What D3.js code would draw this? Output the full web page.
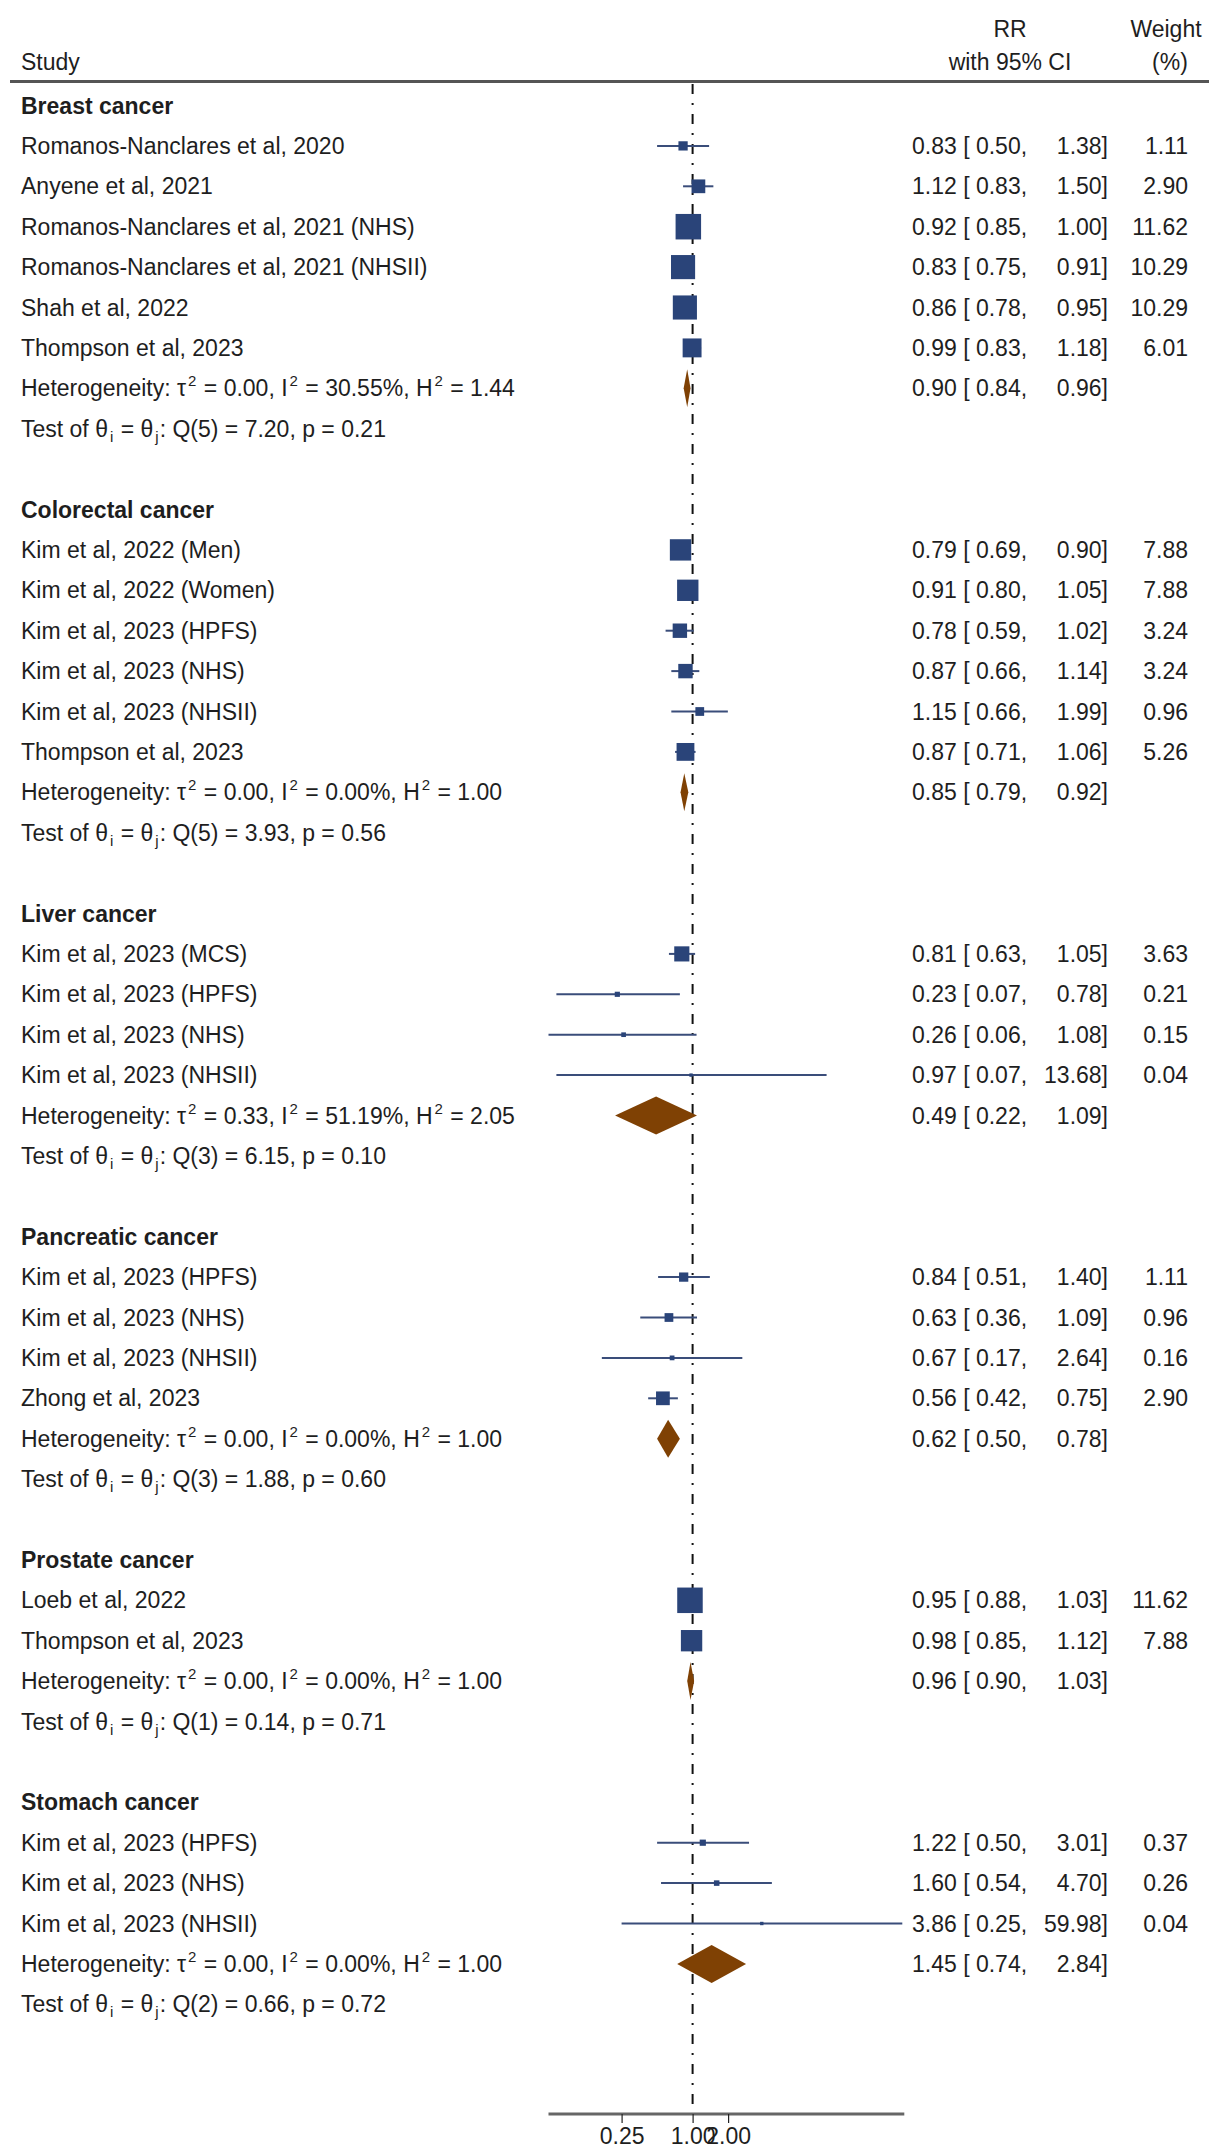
<!DOCTYPE html>
<html>
<head>
<meta charset="utf-8">
<script src="https://cdn.jsdelivr.net/npm/d3@7"></script>
<style>
  html, body { margin: 0; padding: 0; background: #ffffff; }
  svg { display: block; }
  text { font-family: "Liberation Sans", Arial, Helvetica, sans-serif; fill: #1e1e1e; white-space: pre; }
</style>
</head>
<body>
<div id="chart"></div>
<script>
// ---- Data -------------------------------------------------------------
const groupNames = ["Breast cancer", "Colorectal cancer", "Liver cancer",
                    "Pancreatic cancer", "Prostate cancer", "Stomach cancer"];

const studyLabels = [
  "Romanos-Nanclares et al, 2020", "Anyene et al, 2021",
  "Romanos-Nanclares et al, 2021 (NHS)", "Romanos-Nanclares et al, 2021 (NHSII)",
  "Shah et al, 2022", "Thompson et al, 2023",
  "Kim et al, 2022 (Men)", "Kim et al, 2022 (Women)", "Kim et al, 2023 (HPFS)",
  "Kim et al, 2023 (NHS)", "Kim et al, 2023 (NHSII)", "Thompson et al, 2023",
  "Kim et al, 2023 (MCS)", "Kim et al, 2023 (HPFS)", "Kim et al, 2023 (NHS)",
  "Kim et al, 2023 (NHSII)",
  "Kim et al, 2023 (HPFS)", "Kim et al, 2023 (NHS)", "Kim et al, 2023 (NHSII)",
  "Zhong et al, 2023",
  "Loeb et al, 2022", "Thompson et al, 2023",
  "Kim et al, 2023 (HPFS)", "Kim et al, 2023 (NHS)", "Kim et al, 2023 (NHSII)"
];
const studyGroup  = [0,0,0,0,0,0, 1,1,1,1,1,1, 2,2,2,2, 3,3,3,3, 4,4, 5,5,5];
const studyRR     = [0.83,1.12,0.92,0.83,0.86,0.99, 0.79,0.91,0.78,0.87,1.15,0.87,
                     0.81,0.23,0.26,0.97, 0.84,0.63,0.67,0.56, 0.95,0.98, 1.22,1.60,3.86];
const studyLo     = [0.50,0.83,0.85,0.75,0.78,0.83, 0.69,0.80,0.59,0.66,0.66,0.71,
                     0.63,0.07,0.06,0.07, 0.51,0.36,0.17,0.42, 0.88,0.85, 0.50,0.54,0.25];
const studyHi     = [1.38,1.50,1.00,0.91,0.95,1.18, 0.90,1.05,1.02,1.14,1.99,1.06,
                     1.05,0.78,1.08,13.68, 1.40,1.09,2.64,0.75, 1.03,1.12, 3.01,4.70,59.98];
const studyWeight = [1.11,2.90,11.62,10.29,10.29,6.01, 7.88,7.88,3.24,3.24,0.96,5.26,
                     3.63,0.21,0.15,0.04, 1.11,0.96,0.16,2.90, 11.62,7.88, 0.37,0.26,0.04];

const pooledRR = [0.90, 0.85, 0.49, 0.62, 0.96, 1.45];
const pooledLo = [0.84, 0.79, 0.22, 0.50, 0.90, 0.74];
const pooledHi = [0.96, 0.92, 1.09, 0.78, 1.03, 2.84];
const tau2     = ["0.00", "0.00", "0.33", "0.00", "0.00", "0.00"];
const i2       = ["30.55", "0.00", "51.19", "0.00", "0.00", "0.00"];
const h2       = ["1.44", "1.00", "2.05", "1.00", "1.00", "1.00"];
const qDf      = [5, 5, 3, 3, 1, 2];
const qStat    = ["7.20", "3.93", "6.15", "1.88", "0.14", "0.66"];
const qP       = ["0.21", "0.56", "0.10", "0.60", "0.71", "0.72"];

const tickValues = [0.25, 1, 2];
const tickLabels = ["0.25", "1.00", "2.00"];

// ---- Layout -----------------------------------------------------------
const W = 1209, H = 2148;
const fontSize = 23;
const rowTop = 105.5, rowStep = 40.4;
const xLabel = 21, xEst = 912, xHi = 1108, xWeight = 1188;
const axisY = 2114;

const boxColor = "#2a4479";
const ciColor = "#3a4d7a";
const diamondColor = "#7f4104";

const fmt = d3.format(".2f");

// Build the row list: header, studies, heterogeneity, test, blank per group
const rows = [];
groupNames.forEach((g, gi) => {
  rows.push({ type: "group", g: gi });
  studyLabels.forEach((s, si) => { if (studyGroup[si] === gi) rows.push({ type: "study", s: si }); });
  rows.push({ type: "pooled", g: gi });
  rows.push({ type: "test", g: gi });
  if (gi < groupNames.length - 1) rows.push({ type: "blank" });
});
rows.forEach((r, i) => r.y = rowTop + i * rowStep);

const x = d3.scaleLog().domain([0.06, 59.98]).range([548.5, 902.3]);
const boxSide = d3.scaleSqrt().domain([0, 11.62]).range([2, 25.5]);

const svg = d3.select("#chart").append("svg")
  .attr("width", W).attr("height", H)
  .attr("viewBox", `0 0 ${W} ${H}`);
svg.append("rect").attr("width", W).attr("height", H).attr("fill", "#fff");

// ---- Column headers ---------------------------------------------------
const hdr = svg.append("g").attr("font-size", fontSize);
hdr.append("text").attr("x", xLabel).attr("y", 70).text("Study");
hdr.append("text").attr("x", 1010).attr("y", 37).attr("text-anchor", "middle").text("RR");
hdr.append("text").attr("x", 1010).attr("y", 70).attr("text-anchor", "middle").text("with 95% CI");
hdr.append("text").attr("x", 1166).attr("y", 37).attr("text-anchor", "middle").text("Weight");
hdr.append("text").attr("x", 1170).attr("y", 70).attr("text-anchor", "middle").text("(%)");
svg.append("line").attr("x1", 10).attr("x2", W).attr("y1", 81.5).attr("y2", 81.5)
  .attr("stroke", "#555").attr("stroke-width", 3);

// ---- No-effect reference line ----------------------------------------
svg.append("line")
  .attr("x1", x(1)).attr("x2", x(1)).attr("y1", 84).attr("y2", axisY)
  .attr("stroke", "#111").attr("stroke-width", 2)
  .attr("stroke-dasharray", "10,9,2,9");

// ---- Rows -------------------------------------------------------------
const body = svg.append("g").attr("font-size", fontSize);

// small raised / lowered script inside a text line
function sup(t, s) {
  t.append("tspan").attr("font-size", 15).attr("dx", 2).attr("dy", -10).text(s);
  return t.append("tspan").attr("dx", 1).attr("dy", 10);
}
function sub(t, s) {
  t.append("tspan").attr("font-size", 15).attr("dx", 2).attr("dy", 5).text(s);
  return t.append("tspan").attr("dx", 1).attr("dy", -5);
}

rows.forEach(r => {
  const yb = r.y + 8;
  if (r.type === "group") {
    body.append("text").attr("x", xLabel).attr("y", yb)
      .attr("font-weight", "bold").text(groupNames[r.g]);
  } else if (r.type === "study") {
    const i = r.s;
    body.append("line")
      .attr("x1", x(studyLo[i])).attr("x2", x(studyHi[i]))
      .attr("y1", r.y).attr("y2", r.y)
      .attr("stroke", ciColor).attr("stroke-width", 2);
    const s = boxSide(studyWeight[i]);
    body.append("rect")
      .attr("x", x(studyRR[i]) - s / 2).attr("y", r.y - s / 2)
      .attr("width", s).attr("height", s)
      .attr("fill", boxColor);
    body.append("text").attr("x", xLabel).attr("y", yb).text(studyLabels[i]);
    body.append("text").attr("x", xEst).attr("y", yb)
      .text(`${fmt(studyRR[i])} [ ${fmt(studyLo[i])},`);
    body.append("text").attr("x", xHi).attr("y", yb).attr("text-anchor", "end")
      .text(`${fmt(studyHi[i])}]`);
    body.append("text").attr("x", xWeight).attr("y", yb).attr("text-anchor", "end")
      .text(fmt(studyWeight[i]));
  } else if (r.type === "pooled") {
    const g = r.g;
    const hh = 19;
    body.append("path")
      .attr("d", `M${x(pooledLo[g])},${r.y} L${x(pooledRR[g])},${r.y - hh} ` +
                 `L${x(pooledHi[g])},${r.y} L${x(pooledRR[g])},${r.y + hh} Z`)
      .attr("fill", diamondColor);
    const t = body.append("text").attr("x", xLabel).attr("y", yb);
    t.append("tspan").text("Heterogeneity: \u03C4");
    sup(t, "2").text(` = ${tau2[g]}, I`);
    sup(t, "2").text(` = ${i2[g]}%, H`);
    sup(t, "2").text(` = ${h2[g]}`);
    body.append("text").attr("x", xEst).attr("y", yb)
      .text(`${fmt(pooledRR[g])} [ ${fmt(pooledLo[g])},`);
    body.append("text").attr("x", xHi).attr("y", yb).attr("text-anchor", "end")
      .text(`${fmt(pooledHi[g])}]`);
  } else if (r.type === "test") {
    const g = r.g;
    const t = body.append("text").attr("x", xLabel).attr("y", yb);
    t.append("tspan").text("Test of \u03B8");
    sub(t, "i").text(" = \u03B8");
    sub(t, "j").text(`: Q(${qDf[g]}) = ${qStat[g]}, p = ${qP[g]}`);
  }
});

// ---- X axis -----------------------------------------------------------
const axis = d3.axisBottom(x)
  .tickValues(tickValues)
  .tickFormat((d, i) => tickLabels[i])
  .tickSize(9)
  .tickSizeOuter(0);
const ax = svg.append("g").attr("transform", `translate(0,${axisY})`).call(axis);
ax.select(".domain")
  .attr("d", `M${x.range()[0]},0H${x.range()[1] + 2}`)
  .attr("stroke", "#666").attr("stroke-width", 3);
ax.selectAll(".tick line").attr("stroke", "#222").attr("stroke-width", 1.2);
ax.selectAll(".tick text")
  .attr("font-size", fontSize)
  .attr("font-family", "'Liberation Sans', Arial, sans-serif")
  .attr("fill", "#1e1e1e")
  .attr("y", 14);
</script>
</body>
</html>
